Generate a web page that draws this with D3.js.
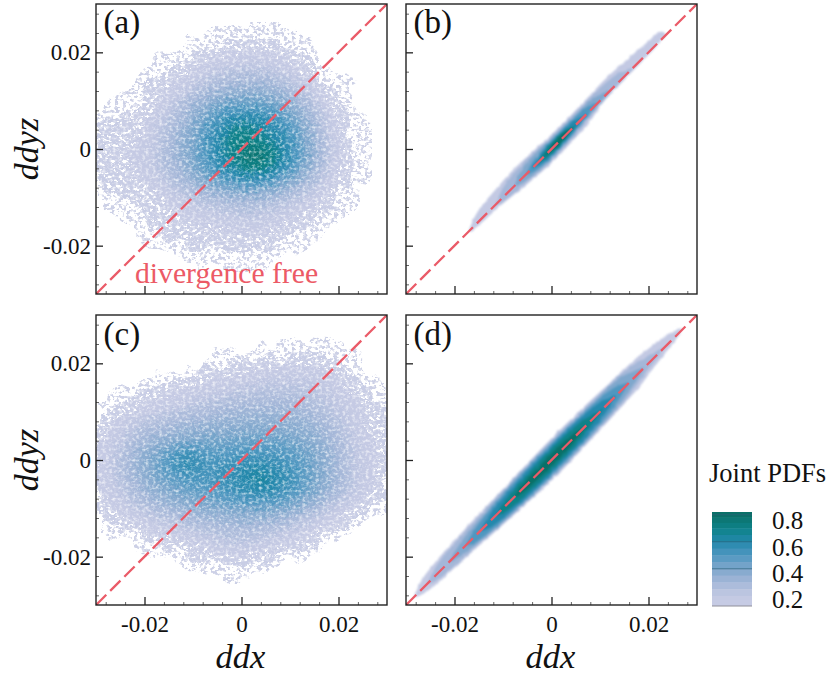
<!DOCTYPE html>
<html><head><meta charset="utf-8">
<script src="https://cdn.jsdelivr.net/npm/d3@7"></script>
<style>html,body{margin:0;background:#fff}svg{display:block}text{font-family:"Liberation Serif",serif;fill:#111}</style>
</head><body><svg id="c" width="829" height="674"></svg>
<script>
// Joint PDF x100, estimated from panels (a) and (c) on a 24x24 grid; row 0 is the top of the panel
const gridA = [
[0,0,0,0,0,0,0,0,0,0,0,0,0,0,0,0,0,0,0,0,0,0,0,0],
[0,0,0,0,0,0,0,0,0,0,4,5,6,6,6,5,3,0,0,0,0,0,0,0],
[0,0,0,0,0,0,0,2,5,7,9,10,10,10,10,9,7,4,0,0,0,0,0,0],
[0,0,0,0,0,2,5,8,11,13,14,15,15,15,15,13,10,7,3,0,0,0,0,0],
[0,0,0,0,3,7,10,13,15,17,18,19,20,20,19,17,14,11,7,3,0,0,0,0],
[0,0,0,4,8,11,14,16,19,22,24,25,26,25,24,22,18,15,11,7,3,0,0,0],
[0,0,4,8,11,14,17,20,24,27,30,31,32,32,31,28,24,20,15,11,7,3,0,0],
[2,5,8,11,13,17,21,25,30,34,37,39,40,40,38,35,30,25,19,14,10,6,2,0],
[8,9,11,13,15,20,25,31,37,42,47,50,50,50,47,43,37,30,23,16,12,8,4,0],
[11,12,13,15,18,23,28,34,42,49,56,60,62,60,56,50,43,35,27,19,14,9,5,2],
[14,14,15,16,20,25,31,38,45,54,62,70,70,66,62,56,48,38,29,20,15,10,6,3],
[15,15,16,18,21,26,33,39,47,56,65,72,74,72,67,60,50,40,30,22,16,11,7,3],
[15,16,17,19,22,27,33,40,47,55,64,72,78,78,72,62,52,41,31,22,16,11,6,3],
[14,15,16,18,21,26,31,37,45,52,60,66,72,72,67,58,48,38,29,20,15,10,6,2],
[13,13,14,16,19,23,28,33,39,45,50,54,57,56,52,46,39,32,25,18,14,9,5,1],
[11,12,13,14,16,19,23,27,31,35,38,40,41,40,38,34,29,25,20,16,12,8,3,0],
[8,9,11,12,14,16,19,21,24,26,28,29,30,29,27,25,22,19,16,13,10,6,2,0],
[4,7,9,11,13,14,16,18,19,21,22,23,24,23,22,20,18,15,13,10,7,3,0,0],
[0,3,6,8,11,13,14,15,16,17,18,19,20,19,18,16,14,12,10,7,3,0,0,0],
[0,0,2,5,8,10,12,13,14,14,15,15,16,15,14,13,11,9,6,2,0,0,0,0],
[0,0,0,0,4,6,8,10,11,11,12,12,12,12,11,10,7,4,0,0,0,0,0,0],
[0,0,0,0,0,0,0,4,6,7,8,8,8,8,7,5,0,0,0,0,0,0,0,0],
[0,0,0,0,0,0,0,0,0,3,5,5,5,4,0,0,0,0,0,0,0,0,0,0],
[0,0,0,0,0,0,0,0,0,0,0,0,0,0,0,0,0,0,0,0,0,0,0,0]
];
const gridC = [
[0,0,0,0,0,0,0,0,0,0,0,0,0,0,0,0,0,0,0,0,0,0,0,0],
[0,0,0,0,0,0,0,0,0,0,0,0,0,0,0,3,4,5,4,3,2,0,0,0],
[0,0,0,0,0,0,0,0,0,0,2,3,4,6,7,8,9,9,9,8,6,4,2,0],
[0,0,0,0,0,0,0,2,4,5,7,8,9,11,12,13,14,14,13,12,10,7,4,2],
[0,0,0,0,2,4,6,8,10,12,13,15,16,17,18,19,19,19,18,16,14,10,7,4],
[0,2,4,6,8,11,13,15,16,18,19,20,21,22,23,23,23,23,21,19,16,13,9,6],
[4,7,9,11,13,15,17,19,21,22,23,25,26,27,27,27,27,26,24,22,19,15,12,9],
[9,12,14,16,18,20,22,24,26,27,29,30,31,31,32,32,31,29,27,24,21,18,15,12],
[13,16,19,22,24,26,28,30,31,33,34,35,36,36,36,36,35,33,30,27,23,19,16,14],
[15,19,23,27,30,32,34,36,37,39,39,40,41,41,41,41,39,37,34,30,25,21,17,15],
[17,21,26,31,35,38,41,43,44,45,45,46,47,47,47,46,44,41,37,32,27,22,18,16],
[18,23,29,35,40,46,52,56,53,50,50,52,53,53,53,51,48,44,39,34,28,23,19,16],
[18,24,30,36,42,48,54,58,56,54,55,57,60,60,58,55,51,46,40,34,28,23,19,16],
[18,23,29,34,40,45,49,52,53,54,56,59,62,66,62,58,53,47,41,35,29,23,19,15],
[17,21,26,31,36,40,43,46,48,50,53,56,58,60,59,55,50,45,39,33,27,22,18,15],
[15,18,22,27,31,34,37,40,42,44,46,48,49,50,49,47,43,38,33,27,22,18,15,13],
[12,15,18,21,24,27,30,32,34,36,37,38,39,39,38,36,32,28,24,20,16,14,12,9],
[7,11,14,16,19,21,23,25,27,29,30,31,31,30,29,27,24,21,18,15,12,8,5,2],
[2,5,8,10,13,15,17,19,21,23,25,26,26,24,22,20,18,15,12,8,5,2,0,0],
[0,0,2,5,7,9,11,13,15,17,19,20,19,18,16,15,13,10,6,2,0,0,0,0],
[0,0,0,0,0,3,5,7,9,12,14,15,14,13,11,9,6,3,0,0,0,0,0,0],
[0,0,0,0,0,0,0,2,4,7,8,9,7,6,4,2,0,0,0,0,0,0,0,0],
[0,0,0,0,0,0,0,0,0,3,5,5,4,0,0,0,0,0,0,0,0,0,0,0],
[0,0,0,0,0,0,0,0,0,0,0,0,0,0,0,0,0,0,0,0,0,0,0,0]
];
// Panels (b), (d): level bands as [ddx, offset above the diagonal, offset below it]
const levelsB = [
 [0.2, [[-.0170,.0002,.0002],[-.0162,.0014,.0005],[-.015,.0024,.0008],[-.0105,.0033,.0012],[-.0078,.0036,.0017],[-.004,.0034,.0024],[0,.003,.0029],[.004,.003,.0027],[.008,.0032,.0022],[.011,.0034,.0009],[.015,.003,.0007],[.02,.0023,.0005],[.0225,.0018,.0003],[.0235,.0004,.0001]]],
 [0.3, [[-.0115,.0002,.0002],[-.0095,.0022,.001],[-.005,.0029,.0018],[0,.0026,.0025],[.005,.0026,.0021],[.01,.0026,.0009],[.014,.0018,.0004],[.0165,.0002,.0001]]],
 [0.4, [[-.0075,.0002,.0002],[-.006,.002,.001],[-.003,.0024,.0017],[0,.0022,.0021],[.005,.0021,.0016],[.009,.0017,.0006],[.0118,.0002,.0001]]],
 [0.5, [[-.0052,.0001,.0001],[-.0035,.0014,.0011],[0,.0018,.0017],[.004,.0018,.0014],[.0075,.0013,.0006],[.0095,.0001,.0001]]],
 [0.6, [[-.0038,.0001,.0001],[-.002,.0012,.001],[.001,.0015,.0014],[.004,.0014,.001],[.0072,.0001,.0001]]],
 [0.7, [[-.0028,.0001,.0001],[-.001,.001,.0008],[.002,.0012,.001],[.0052,.0001,.0001]]],
 [0.8, [[-.0012,.0001,.0001],[.0005,.0007,.0005],[.0025,.0009,.0006],[.0042,.0001,.0001]]]
];
const levelsD = [
 [0.2, [[-.0282,.0003,.0003],[-.0268,.0019,.0011],[-.024,.0028,.0019],[-.02,.0034,.0023],[-.015,.0038,.0028],[-.01,.004,.0034],[-.005,.0043,.0039],[0,.0045,.0043],[.005,.0044,.0042],[.01,.0041,.0038],[.015,.0038,.0034],[.018,.0035,.003],[.021,.0028,.002],[.024,.002,.0012],[.0268,.0005,.0003]]],
 [0.3, [[-.0255,.0002,.0002],[-.0235,.0019,.0013],[-.015,.0033,.0024],[-.01,.0037,.0031],[0,.0041,.0039],[.01,.0037,.0034],[.015,.0033,.0029],[.019,.002,.0015],[.023,.0002,.0002]]],
 [0.4, [[-.021,.0002,.0002],[-.0185,.0017,.0012],[-.01,.0033,.0029],[0,.0037,.0036],[.01,.0033,.0031],[.0145,.0027,.0023],[.019,.0002,.0002]]],
 [0.5, [[-.0175,.0002,.0002],[-.0155,.0016,.0014],[-.008,.003,.0027],[0,.0033,.0032],[.008,.003,.0028],[.013,.002,.0018],[.0158,.0002,.0002]]],
 [0.6, [[-.0145,.0002,.0002],[-.0125,.0015,.0014],[-.006,.0026,.0025],[0,.0029,.0028],[.006,.0027,.0025],[.0105,.0017,.0016],[.0132,.0002,.0002]]],
 [0.7, [[-.0115,.0001,.0001],[-.0095,.0012,.0012],[-.004,.0021,.002],[.001,.0023,.0022],[.006,.0018,.0017],[.0105,.0001,.0001]]],
 [0.8, [[-.0078,.0001,.0001],[-.006,.0008,.0008],[-.002,.0012,.0012],[.002,.0013,.0013],[.005,.0008,.0008],[.0072,.0001,.0001]]]
];
const panelLabels = ["(a)","(b)","(c)","(d)"];
const majorTicks = [-0.02,0,0.02];
const minorTicks = [-0.028,-0.024,-0.016,-0.012,-0.008,-0.004,0.004,0.008,0.012,0.016,0.024,0.028];
const legendTicks = [0.8,0.6,0.4,0.2];
const legendBands = [0.82,0.78,0.74,0.7,0.65,0.6,0.55,0.5,0.45,0.4,0.35,0.3,0.25,0.2,0.17];
const colorDomain = [0.05,0.2,0.3,0.4,0.5,0.6,0.7,0.8,0.85];
const colorRange = ["#cdd0e6","#c3c9e3","#a4b7d8","#7fa7cc","#4f97c0","#2488ac","#0e8288","#0a7068","#0a6a5c"];
const sparseLevels = [6];
const speckledLevels = [12];
const solidLevels = d3.range(17,80,2.5);

const color = d3.scaleLinear().domain(colorDomain).range(colorRange);
const svg = d3.select("#c");
const defs = svg.append("defs");

// Surface grain for the scattered PDF fields: a paint effect only, values come from the grids above
function maskFilter(id, seed, slope, intercept){
  const f = defs.append("filter").attr("id",id).attr("x",0).attr("y",0).attr("width","100%").attr("height","100%").attr("color-interpolation-filters","sRGB");
  f.append("feTurbulence").attr("type","fractalNoise").attr("baseFrequency","0.045").attr("numOctaves",2).attr("seed",seed+20).attr("result","low");
  f.append("feDisplacementMap").attr("in","SourceGraphic").attr("in2","low").attr("scale",30).attr("xChannelSelector","R").attr("yChannelSelector","G").attr("result","moved");
  f.append("feTurbulence").attr("type","fractalNoise").attr("baseFrequency","0.26 0.32").attr("numOctaves",2).attr("seed",seed).attr("result","n");
  f.append("feColorMatrix").attr("in","n").attr("type","matrix").attr("values","0 0 0 0 0  0 0 0 0 0  0 0 0 0 0  1 0 0 0 0").attr("result","a");
  const ct = f.append("feComponentTransfer").attr("in","a").attr("result","m");
  ct.append("feFuncA").attr("type","linear").attr("slope",slope).attr("intercept",intercept);
  f.append("feComposite").attr("in","moved").attr("in2","m").attr("operator","in");
}
maskFilter("sparse",3,14,-7.0);
maskFilter("speckled",8,14,-5.4);
const gr = defs.append("filter").attr("id","grain").attr("x",0).attr("y",0).attr("width","100%").attr("height","100%").attr("color-interpolation-filters","sRGB");
gr.append("feTurbulence").attr("type","fractalNoise").attr("baseFrequency","0.24 0.3").attr("numOctaves",2).attr("seed",11).attr("result","n");
gr.append("feDisplacementMap").attr("in","SourceGraphic").attr("in2","n").attr("scale",18).attr("xChannelSelector","R").attr("yChannelSelector","G").attr("result","d");
gr.append("feGaussianBlur").attr("in","d").attr("stdDeviation",0.5);
// white flecks laid over the field; white on the white page stays invisible outside it
const fl = defs.append("filter").attr("id","flecks").attr("x",0).attr("y",0).attr("width","100%").attr("height","100%").attr("color-interpolation-filters","sRGB");
fl.append("feTurbulence").attr("type","fractalNoise").attr("baseFrequency","0.3 0.36").attr("numOctaves",2).attr("seed",17).attr("result","n");
fl.append("feColorMatrix").attr("in","n").attr("type","matrix").attr("values","0 0 0 0 1  0 0 0 0 1  0 0 0 0 1  1.7 0 0 0 -0.78").attr("result","w");
fl.append("feGaussianBlur").attr("in","w").attr("stdDeviation",0.5);
const sm = defs.append("filter").attr("id","smooth").attr("x","-5%").attr("y","-5%").attr("width","110%").attr("height","110%").attr("color-interpolation-filters","sRGB");
sm.append("feTurbulence").attr("type","fractalNoise").attr("baseFrequency","0.2").attr("numOctaves",1).attr("seed",5).attr("result","n");
sm.append("feDisplacementMap").attr("in","SourceGraphic").attr("in2","n").attr("scale",3).attr("xChannelSelector","R").attr("yChannelSelector","G").attr("result","d");
sm.append("feGaussianBlur").attr("in","d").attr("stdDeviation",1.2);

const PW = 291, PH = 290;
const panels = [
 {k:0,x:96,y:4,grid:gridA},{k:1,x:406,y:4,levels:levelsB},
 {k:2,x:96,y:315,grid:gridC},{k:3,x:406,y:315,levels:levelsD}
];
const fmt = d => d===0 ? "0" : d3.format(".2f")(d).replace("\u2212","-");
panels.forEach(p=>{
  const g = svg.append("g").attr("transform",`translate(${p.x},${p.y})`);
  const sx = d3.scaleLinear().domain([-0.03,0.03]).range([0,PW]);
  const sy = d3.scaleLinear().domain([-0.03,0.03]).range([PH,0]);
  defs.append("clipPath").attr("id","cp"+p.k).append("rect").attr("width",PW).attr("height",PH);
  const body = g.append("g").attr("clip-path",`url(#cp${p.k})`);
  if(p.grid){
    const n = p.grid.length;
    const vals = p.grid.flat();
    const gxs = d3.scaleLinear().domain([0,n]).range([0,PW]);
    const gys = d3.scaleLinear().domain([0,n]).range([0,PH]);
    const path = d3.geoPath(d3.geoTransform({point(x,y){this.stream.point(gxs(x),gys(y));}}));
    const layer = (levels,filter)=>{
      const cs = d3.contours().size([n,n]).thresholds(levels)(vals);
      body.append("g").attr("filter",`url(#${filter})`).selectAll("path").data(cs).join("path").attr("d",path).attr("fill",d=>color(d.value/100));
    };
    layer(sparseLevels,"sparse");
    layer(speckledLevels,"speckled");
    layer(solidLevels,"grain");
    body.append("rect").attr("width",PW).attr("height",PH).attr("fill","#fff").attr("filter","url(#flecks)");
  } else {
    const area = d3.area().x(d=>sx(d[0])).y0(d=>sy(d[0]-d[2])).y1(d=>sy(d[0]+d[1])).curve(d3.curveCatmullRom);
    body.append("g").attr("filter","url(#smooth)").selectAll("path").data(p.levels).join("path").attr("d",d=>area(d[1])).attr("fill",d=>color(d[0]));
  }
  // diagonal
  body.append("line").attr("x1",sx(-0.03)).attr("y1",sy(-0.03)).attr("x2",sx(0.03)).attr("y2",sy(0.03))
    .attr("stroke","#ea5b68").attr("stroke-width",2.3).attr("stroke-dasharray","14.5 5.5");
  // axes
  const showX = p.k>=2, showY = p.k%2===0;
  const ax = d3.axisBottom(sx).tickValues(majorTicks).tickSizeInner(-8).tickSizeOuter(0).tickPadding(11).tickFormat(showX?fmt:"");
  const ay = d3.axisLeft(sy).tickValues(majorTicks).tickSizeInner(-7).tickSizeOuter(0).tickPadding(5).tickFormat(showY?fmt:"");
  const gx = g.append("g").attr("transform",`translate(0,${PH})`).call(ax);
  const gy = g.append("g").call(ay);
  [gx,gy].forEach(a=>{a.select(".domain").remove();a.selectAll("line").attr("stroke","#222").attr("stroke-width",1.3);
    a.selectAll("text").style("font-family","'Liberation Serif',serif").style("font-size","23px").attr("fill","#111");});
  const mx = d3.axisBottom(sx).tickValues(minorTicks).tickSizeInner(-3).tickSizeOuter(0).tickFormat("");
  const my = d3.axisLeft(sy).tickValues(minorTicks).tickSizeInner(-3).tickSizeOuter(0).tickFormat("");
  g.append("g").attr("transform",`translate(0,${PH})`).call(mx).call(s=>{s.select(".domain").remove();s.selectAll("line").attr("stroke","#555").attr("stroke-width",.9);});
  g.append("g").call(my).call(s=>{s.select(".domain").remove();s.selectAll("line").attr("stroke","#555").attr("stroke-width",.9);});
  g.append("rect").attr("width",PW).attr("height",PH).attr("fill","none").attr("stroke","#222").attr("stroke-width",1.4);
  g.append("text").attr("x",7.5).attr("y",p.k<2?29:30).style("font-size","33px").text(panelLabels[p.k]);
  if(p.k===0) g.append("text").attr("x",39).attr("y",279).style("font-size","29.7px").style("fill","#ec5a66").text("divergence free");
  if(showX) g.append("text").attr("x",PW/2-1).attr("y",PH+63).attr("text-anchor","middle").style("font-size","34.5px").style("font-style","italic").text("ddx");
  if(showY) g.append("text").attr("transform",`translate(-58,${PH/2}) rotate(-90)`).attr("text-anchor","middle").style("font-size","34px").style("font-style","italic").text("ddyz");
});
// legend
const ly = d3.scaleLinear().domain([0.125,0.82]).range([606,512]);
const leg = svg.append("g");
leg.selectAll("rect").data(d3.pairs(legendBands)).join("rect")
  .attr("x",712).attr("width",40).attr("y",d=>ly(d[0])).attr("height",d=>ly(d[1])-ly(d[0])+0.5).attr("fill",d=>color((d[0]+d[1])/2));
leg.append("rect").attr("x",712).attr("width",40).attr("y",ly(0.17)).attr("height",ly(0.125)-ly(0.17)).attr("fill",color(0.15));
leg.selectAll("line.t").data(legendTicks.slice(0,3)).join("line").attr("x1",712).attr("x2",752).attr("y1",d=>ly(d)).attr("y2",d=>ly(d)).attr("stroke","#2b6078").attr("stroke-width",.7);
leg.append("line").attr("x1",712).attr("x2",752).attr("y1",606).attr("y2",606).attr("stroke","#8f8f9a").attr("stroke-width",1.2);
leg.selectAll("text").data(legendTicks).join("text").attr("x",772).attr("y",d=>ly(d)+ (d===0.2?12:d===0.4?13:14)).style("font-size","25px").text(d=>d.toFixed(1));
svg.append("text").attr("x",709).attr("y",482).style("font-size","26.5px").text("Joint PDFs");
</script></body></html>
